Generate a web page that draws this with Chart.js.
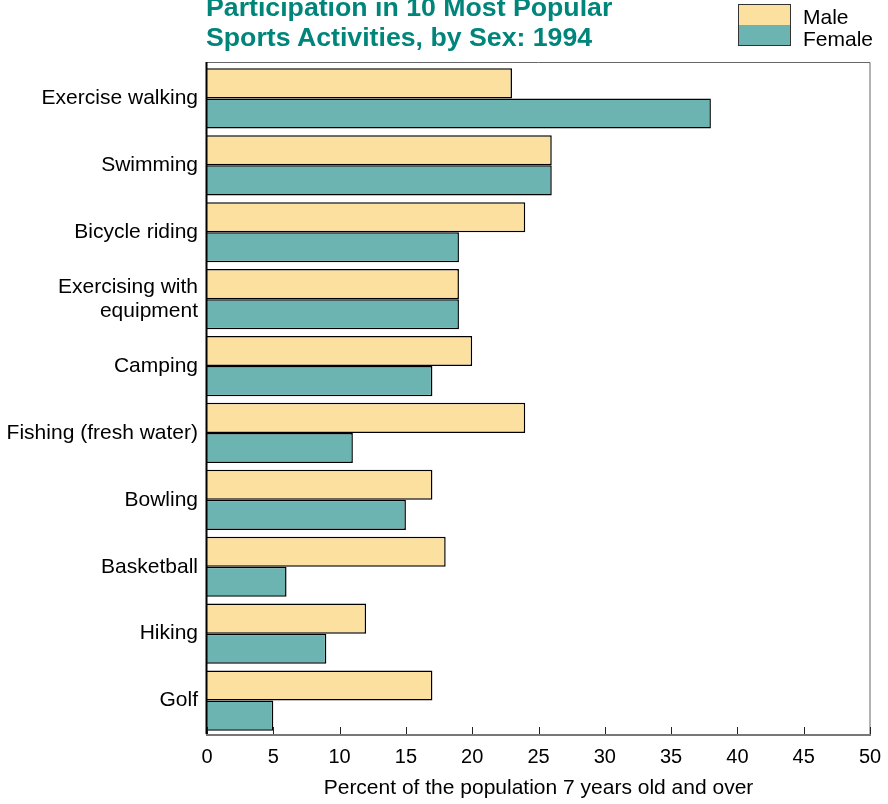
<!DOCTYPE html>
<html>
<head>
<meta charset="utf-8">
<script src="https://cdn.jsdelivr.net/npm/chart.js@4.4.1/dist/chart.umd.min.js"></script>
<style>
  body { margin: 0; background: #fff; }
  #wrap { position: relative; width: 888px; height: 804px; overflow: hidden; font-family: "Liberation Sans", Arial, sans-serif; }
  #title { position: absolute; left: 206px; top: -8px; color: #00857a; font-weight: bold; font-size: 26.7px; line-height: 30px; white-space: nowrap; }
  .swatch { position: absolute; left: 738px; width: 51px; height: 20px; border: 1.5px solid #333; box-sizing: content-box; }
  .leg { position: absolute; left: 803px; font-size: 21px; line-height: 22px; color: #000; }
  canvas { position: absolute; left: 0; top: 0; }
</style>
</head>
<body>
<div id="wrap">
  <canvas id="chart" width="888" height="804"></canvas>
  <div id="title">Participation in 10 Most Popular<br>Sports Activities, by Sex: 1994</div>
  <div class="swatch" style="top:4px; background:#fbe0a0;"></div>
  <div class="swatch" style="top:25px; background:#6bb4b2; border-top:none; height:20px;"></div>
  <div class="leg" style="top:6px;">Male</div>
  <div class="leg" style="top:28px;">Female</div>
</div>
<script>
const activities = [
    'Exercise walking', 'Swimming', 'Bicycle riding', ['Exercising with', 'equipment'],
    'Camping', 'Fishing (fresh water)', 'Bowling', 'Basketball', 'Hiking', 'Golf'
];
const male = [23, 26, 24, 19, 20, 24, 17, 18, 12, 17];
const female = [38, 26, 19, 19, 17, 11, 15, 6, 9, 5];
const xTicks = [0, 5, 10, 15, 20, 25, 30, 35, 40, 45, 50];

const maleColor = '#fbe0a0';
const femaleColor = '#6bb4b2';
const fontFamily = '"Liberation Sans", Arial, sans-serif';

// frame + small inward tick marks on the bottom axis
const framePlugin = {
    id: 'frame',
    afterDatasetsDraw(chart) {
        const { ctx, chartArea: a, scales } = chart;
        ctx.save();
        ctx.strokeStyle = '#666';
        ctx.lineWidth = 1;
        ctx.beginPath();
        ctx.moveTo(a.left, a.top - 2.5);
        ctx.lineTo(a.right, a.top - 2.5);
        ctx.lineTo(a.right, a.bottom);
        ctx.stroke();

        ctx.strokeStyle = '#222';
        ctx.lineWidth = 1;
        xTicks.forEach((t) => {
            const x = Math.round(scales.x.getPixelForValue(t)) + 0.5;
            ctx.beginPath();
            ctx.moveTo(x, a.bottom);
            ctx.lineTo(x, a.bottom - 7);
            ctx.stroke();
        });

        ctx.strokeStyle = '#777';
        ctx.lineWidth = 2;
        ctx.beginPath();
        ctx.moveTo(a.left - 1, a.bottom + 1);
        ctx.lineTo(a.right + 1, a.bottom + 1);
        ctx.stroke();

        ctx.strokeStyle = '#000';
        ctx.lineWidth = 2;
        ctx.beginPath();
        ctx.moveTo(a.left - 0.5, a.top - 3);
        ctx.lineTo(a.left - 0.5, a.bottom);
        ctx.stroke();
        ctx.restore();
    }
};

new Chart(document.getElementById('chart').getContext('2d'), {
    type: 'bar',
    data: {
        labels: activities,
        datasets: [
            {
                label: 'Male',
                data: male,
                backgroundColor: maleColor,
                borderColor: '#000',
                borderWidth: 1.5,
                categoryPercentage: 0.9,
                barPercentage: 1,
            },
            {
                label: 'Female',
                data: female,
                backgroundColor: femaleColor,
                borderColor: '#000',
                borderWidth: 1.5,
                categoryPercentage: 0.9,
                barPercentage: 1,
            }
        ],
    },
    options: {
        indexAxis: 'y',
        responsive: false,
        animation: false,
        layout: { padding: { top: 65, right: 18, left: 0, bottom: 0 } },
        plugins: {
            legend: { display: false },
            tooltip: { enabled: false },
        },
        scales: {
            x: {
                min: 0,
                max: 50,
                afterBuildTicks: (scale) => { scale.ticks = xTicks.map((v) => ({ value: v })); },
                grid: { display: false, drawTicks: false },
                border: { display: false },
                ticks: {
                    padding: 11,
                    color: '#000',
                    font: { family: fontFamily, size: 20 },
                    maxRotation: 0,
                },
                title: {
                    display: true,
                    text: 'Percent of the population 7 years old and over',
                    color: '#000',
                    font: { family: fontFamily, size: 21 },
                    padding: { top: 4, bottom: 3 },
                },
                afterFit: (scale) => {
                    scale.height = 70;
                    scale.paddingRight = 0;
                    scale.paddingLeft = 0;
                },
            },
            y: {
                grid: { display: false, drawTicks: false },
                border: { display: false },
                ticks: {
                    padding: 9,
                    color: '#000',
                    font: { family: fontFamily, size: 21, lineHeight: 1.15 },
                },
                afterFit: (scale) => { scale.width = 207; },
            },
        },
    },
    plugins: [framePlugin],
});
</script>
</body>
</html>
